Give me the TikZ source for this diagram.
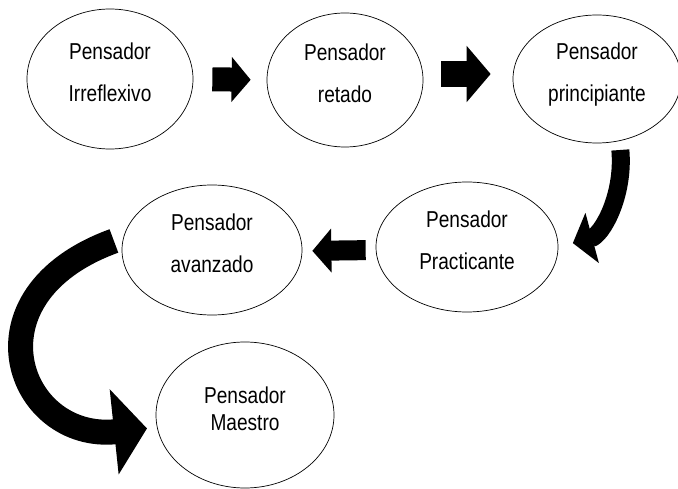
\documentclass[tikz,border=0pt]{standalone}
\usepackage{fontspec}
\setmainfont[FakeStretch=0.83]{Liberation Sans}
\usetikzlibrary{arrows, arrows.meta}
\usetikzlibrary{shapes.geometric}

\begin{document}
\begin{tikzpicture}[x=1pt, y=1pt,
    etapa/.style={ellipse, draw, line width=0.7pt, inner sep=0pt, align=center,
      text height=56pt, text depth=10pt, font=\fontsize{23}{42}\selectfont},
    flecha/.style={draw=black, line width=#1}]
          \useasboundingbox (0,0) rectangle (678,-489);

          \node[etapa, minimum width=166pt, minimum height=140pt] (irr) at (110,-79) {Pensador\\Irreflexivo};
          \node[etapa, minimum width=156pt, minimum height=134pt] (ret) at (345,-80) {Pensador\\retado};
          \node[etapa, minimum width=168pt, minimum height=128pt] (pri) at (597,-79) {Pensador\\principiante};
          \node[etapa, minimum width=182pt, minimum height=130pt] (pra) at (467,-247) {Pensador\\Practicante};
          \node[etapa, minimum width=180pt, minimum height=130pt] (avz) at (212,-250) {Pensador\\avanzado};
          \node[etapa, minimum width=178pt, minimum height=146pt, text height=41pt, font=\fontsize{23}{27}\selectfont] (mae) at (245,-415) {Pensador\\Maestro};

          \draw[flecha=24pt, -{Triangle[length=19pt, width=44pt]}, shorten <=19pt, shorten >=16pt] (irr.east) -- (ret.west);
          \draw[flecha=26pt, -{Triangle[length=24pt, width=55pt]}, shorten <=18pt, shorten >=22pt] ([yshift=6pt]ret.east) -- ([yshift=5pt]pri.west);
          \draw[flecha=18pt, -{Triangle[length=20pt, width=51pt]}, shorten <=9pt, shorten >=15pt] (pri.-70) .. controls +(-85:55) and +(15:45) .. (pra.east);
          \draw[flecha=20pt, -{Triangle[length=19pt, width=43pt]}, shorten <=10pt, shorten >=10pt] ([yshift=-3pt]pra.west) -- ([yshift=-1pt]avz.east);
          \draw[flecha=25pt, -{Triangle[length=33pt, width=84pt]}, shorten <=10pt, shorten >=10pt] (avz.172) .. controls +(200:170) and +(186:140) .. (mae.188);
        \end{tikzpicture}
\end{document}
